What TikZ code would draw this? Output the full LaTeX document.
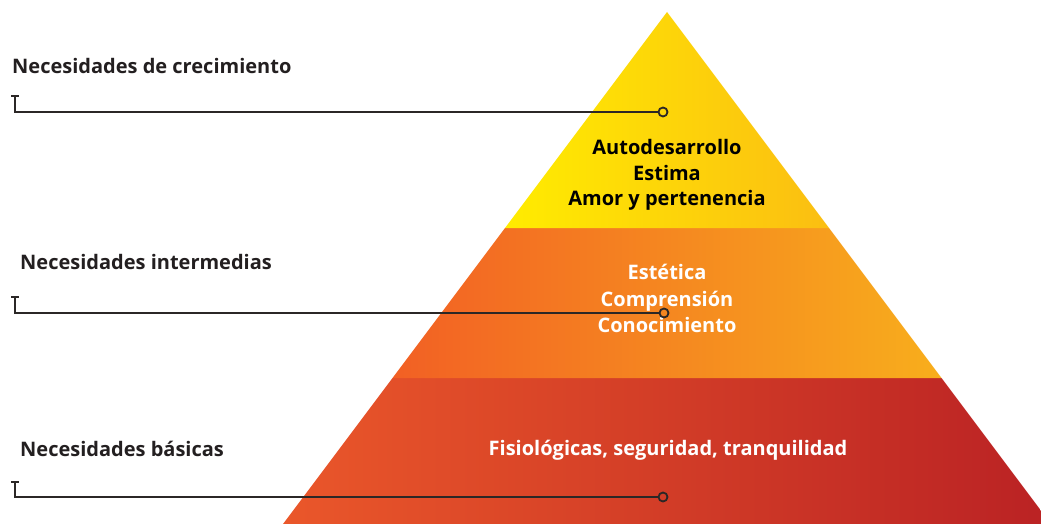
\documentclass[tikz,border=0pt]{standalone}
\usepackage{fontspec}
\setmainfont{Open Sans}
\usetikzlibrary{arrows.meta,positioning}

\definecolor{LabelGray}{HTML}{231F20}
\definecolor{LineGray}{HTML}{2B2726}
\definecolor{TopLeft}{HTML}{FFEC00}
\definecolor{TopRight}{HTML}{FBBE12}
\definecolor{MidLeft}{HTML}{F26024}
\definecolor{MidRight}{HTML}{F8AE1C}
\definecolor{BaseLeft}{HTML}{EA572A}
\definecolor{BaseRight}{HTML}{BA2224}

\begin{document}
\begin{tikzpicture}[x=1pt,y=-1pt,
	Label/.style={anchor=base west,inner sep=0pt,font=\fontsize{20}{22}\selectfont\bfseries,text=LabelGray},
	TierText/.style={align=center,inner sep=0pt,font=\fontsize{20}{25.5}\selectfont\bfseries},
	Leader/.style={draw=LineGray,line width=2pt,{Bar[width=8pt,line width=2pt]}-},
	Dot/.style={circle,draw=LineGray,line width=1.8pt,inner sep=0pt,minimum size=9pt},
]
	\useasboundingbox (0,0) rectangle (1041,524);
	\clip (0,0) rectangle (1041,524);

	% pyramid tiers
	\shade[left color=BaseLeft,right color=BaseRight] (392.5,378) -- (941.5,378) -- (1051,524) -- (283,524) -- cycle;
	\shade[left color=MidLeft,right color=MidRight] (505,228) -- (829,228) -- (941.5,378) -- (392.5,378) -- cycle;
	\shade[left color=TopLeft,right color=TopRight] (667,12) -- (829,228) -- (505,228) -- cycle;

	% tier texts
	\node[TierText,text=black] (top) at (667,175) {Autodesarrollo\\Estima\\Amor y pertenencia};
	\node[TierText,text=white,font=\fontsize{20}{26.5}\selectfont\bfseries] (mid) at (667,298.5) {Estética\\Comprensión\\Conocimiento};
	\node[TierText,text=white] (base) at (668,450) {Fisiológicas, seguridad, tranquilidad};

	% side labels
	\node[Label] (growth) at (12,74) {Necesidades de crecimiento};
	\node[Label] (inter) at (20,269) {Necesidades intermedias};
	\node[Label] (basic) at (20,456) {Necesidades básicas};

	% leaders
	\coordinate (t1) at (15,95);
	\coordinate (t2) at (15,296);
	\coordinate (t3) at (15,481);
	\node[Dot] (d1) at (663,112) {};
	\node[Dot] (d2) at (664,313) {};
	\node[Dot] (d3) at (663,497) {};

	\draw[Leader] (t1) |- (d1);
	\draw[Leader] (t2) |- (d2);
	\draw[Leader] (t3) |- (d3);
\end{tikzpicture}
\end{document}
